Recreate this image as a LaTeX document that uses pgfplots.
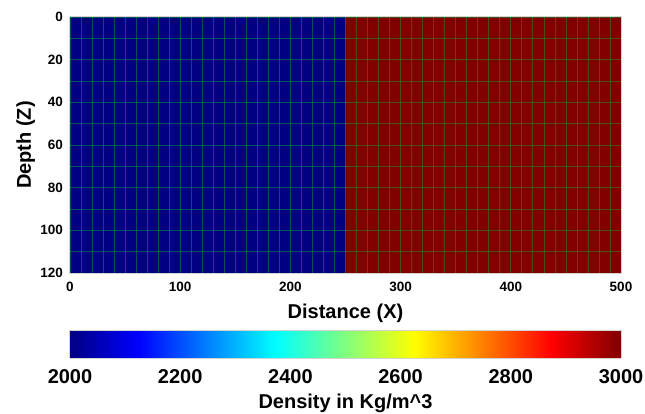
\documentclass[border=0pt]{standalone}
\usepackage{fontspec}
\setmainfont{Liberation Sans}
\usepackage{pgfplots}
\pgfplotsset{compat=1.18}
\usepgfplotslibrary{patchplots}
\definecolor{meshgreen}{RGB}{0,190,40}
\begin{document}
\begin{tikzpicture}
\path[use as bounding box] (-70pt,-141pt) rectangle (575pt,273pt);
\begin{axis}[
  at={(0,0)}, anchor=south west,
  scale only axis, width=551pt, height=256pt,
  xmin=0, xmax=500, ymin=0, ymax=120,
  y dir=reverse,
  xtick={0,100,...,500}, ytick={0,20,...,120},
  minor x tick num=9, minor y tick num=1,
  major tick length=0pt, minor tick length=0pt,
  axis on top,
  grid=both,
  major grid style={draw=meshgreen, draw opacity=0.42, line width=0.7pt},
  minor grid style={draw=meshgreen, draw opacity=0.42, line width=0.7pt},
  axis line style={draw=gray!35, line width=1pt},
  /pgf/number format/assume math mode=true,
  ticklabel style={font=\bfseries\fontsize{13.5}{14}\selectfont},
  xticklabel style={anchor=base, yshift=-18pt, inner sep=0pt},
  yticklabel style={anchor=east, xshift=-7pt, inner sep=0pt},
  xlabel={Distance (X)}, ylabel={Depth (Z)},
  label style={font=\bfseries\fontsize{20}{22}\selectfont},
  xlabel style={at={(axis description cs:0.5,-0.1758)}, anchor=base},
  ylabel style={at={(axis description cs:-0.0708,0.5)}, anchor=base, rotate=0},
  colormap/jet,
  point meta min=2000, point meta max=3000,
  colorbar horizontal,
  colorbar sampled,
  colorbar style={
    at={(0,-0.2227)}, anchor=north west,
    scale only axis, width=551pt, height=28pt,
    samples=301,
    xtick={2000,2200,...,3000},
    major tick length=0pt,
    axis line style={draw=gray!35, line width=1pt},
    /pgf/number format/assume math mode=true,
    /pgf/number format/1000 sep={},
    xticklabel style={font=\bfseries\fontsize{20}{22}\selectfont, anchor=base, yshift=-25pt, inner sep=0pt},
    xlabel={Density in Kg/m\textasciicircum 3},
    xlabel style={font=\bfseries\fontsize{20}{22}\selectfont, at={(axis description cs:0.5,-1.8)}, anchor=base},
  },
]
\addplot[patch, patch type=rectangle, shader=flat, point meta=explicit] coordinates {
  (0,0) [2000] (250,0) [2000] (250,120) [2000] (0,120) [2000]
  (250,0) [3000] (500,0) [3000] (500,120) [3000] (250,120) [3000]
};
\end{axis}
\end{tikzpicture}
\end{document}
